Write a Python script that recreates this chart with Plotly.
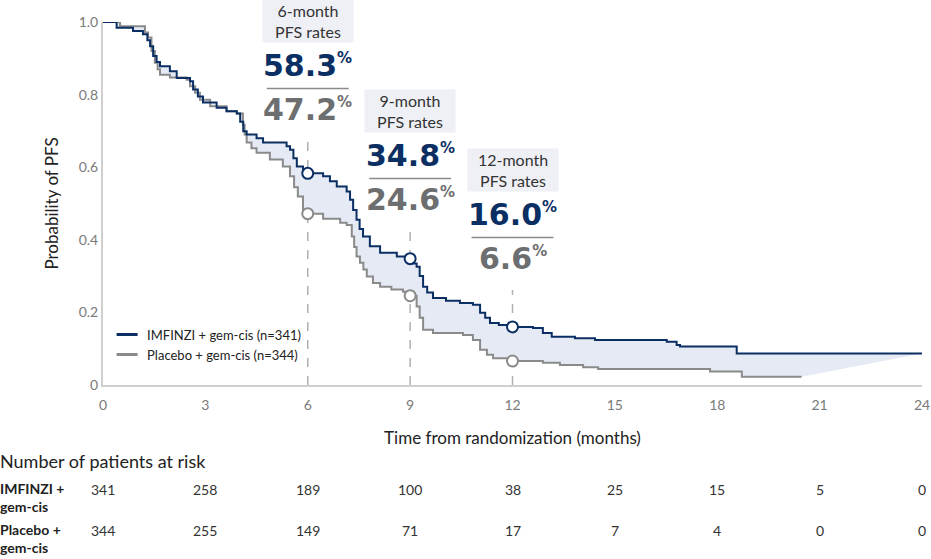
import plotly.graph_objects as go

# KM curves (month, survival after the drop)
imfinzi_months = [0, 0.40, 0.88, 1.17, 1.30, 1.38, 1.47, 1.57, 1.67, 1.96, 2.16, 2.55, 2.64, 2.78, 2.93,
                  3.33, 3.62, 3.92, 4.02, 4.11, 4.21, 4.50, 4.69, 5.38, 5.48, 5.58, 5.68, 5.86, 5.95,
                  6.45, 6.65, 6.85, 7.14, 7.24, 7.33, 7.43, 7.52, 7.62, 7.82, 8.12, 8.61, 8.95, 9.10,
                  9.19, 9.28, 9.38, 9.50, 9.67, 10.05, 10.46, 10.84, 11.05, 11.20, 11.34, 11.60, 11.93,
                  12.60, 12.89, 13.15, 13.83, 14.42, 16.52, 16.81, 16.91, 18.57, 24.0]
imfinzi_pfs = [1.0, 0.984, 0.975, 0.966, 0.950, 0.933, 0.906, 0.890, 0.878, 0.864, 0.846, 0.837, 0.814, 0.795, 0.778,
               0.764, 0.754, 0.748, 0.725, 0.699, 0.690, 0.680, 0.668, 0.658, 0.648, 0.625, 0.602, 0.593, 0.583,
               0.575, 0.561, 0.547, 0.533, 0.510, 0.482, 0.455, 0.430, 0.409, 0.382, 0.364, 0.354, 0.348, 0.335,
               0.326, 0.300, 0.271, 0.255, 0.240, 0.232, 0.226, 0.221, 0.199, 0.185, 0.171, 0.165, 0.160,
               0.157, 0.143, 0.133, 0.129, 0.124, 0.119, 0.110, 0.106, 0.087, 0.087]

placebo_months = [0, 0.50, 1.23, 1.32, 1.42, 1.52, 1.60, 1.67, 1.96, 2.45, 2.55, 2.70, 2.84, 3.14, 3.62, 3.92,
                  4.10, 4.15, 4.21, 4.35, 4.50, 4.89, 5.27, 5.48, 5.60, 5.71, 5.86, 5.95, 6.45, 6.95, 7.14,
                  7.29, 7.36, 7.43, 7.53, 7.63, 7.73, 7.91, 8.12, 8.45, 8.79, 8.95, 9.19, 9.28, 9.38, 9.67,
                  10.55, 10.84, 11.05, 11.25, 11.43, 11.95, 12.89, 13.39, 14.07, 14.51, 17.79, 18.72, 20.47]
placebo_pfs = [1.0, 0.988, 0.971, 0.957, 0.920, 0.888, 0.870, 0.855, 0.847, 0.841, 0.823, 0.805, 0.786, 0.768, 0.754, 0.748,
               0.717, 0.690, 0.668, 0.652, 0.640, 0.621, 0.602, 0.575, 0.545, 0.519, 0.483, 0.472, 0.458, 0.447, 0.441,
               0.409, 0.380, 0.354, 0.337, 0.318, 0.299, 0.281, 0.271, 0.263, 0.257, 0.246, 0.216, 0.185, 0.152, 0.143,
               0.138, 0.124, 0.097, 0.083, 0.074, 0.066, 0.061, 0.055, 0.049, 0.044, 0.037, 0.023, 0.023]

# landmark PFS rates (%)
landmark_months = [6, 9, 12]
imfinzi_rates = [58.3, 34.8, 16.0]
placebo_rates = [47.2, 24.6, 6.6]

# patients at risk
risk_months = [0, 3, 6, 9, 12, 15, 18, 21, 24]
imfinzi_at_risk = [341, 258, 189, 100, 38, 25, 15, 5, 0]
placebo_at_risk = [344, 255, 149, 71, 17, 7, 4, 0, 0]

NAVY = "#0b2f63"
GREY = "#8a8a8a"
NUM_GREY = "#6d6e70"
FONT = "Lato"

fig = go.Figure()

# shaded gap between the arms (grey first, blue fills down to it)
fig.add_trace(go.Scatter(x=placebo_months, y=placebo_pfs, mode="lines", line_shape="hv",
                         line=dict(width=0, color=GREY), showlegend=False, hoverinfo="skip"))
fig.add_trace(go.Scatter(x=imfinzi_months, y=imfinzi_pfs, mode="lines", line_shape="hv",
                         line=dict(width=0, color=NAVY), fill="tonexty", fillcolor="#e5eaf5",
                         showlegend=False, hoverinfo="skip"))

# the curves themselves
fig.add_trace(go.Scatter(x=placebo_months, y=placebo_pfs, mode="lines", line_shape="hv",
                         line=dict(color=GREY, width=2), showlegend=False, cliponaxis=False))
fig.add_trace(go.Scatter(x=imfinzi_months, y=imfinzi_pfs, mode="lines", line_shape="hv",
                         line=dict(color=NAVY, width=2), showlegend=False, cliponaxis=False))

# legend keys: short thick dashes
fig.add_trace(go.Scatter(x=[None], y=[None], mode="markers", name="IMFINZI + gem-cis (n=341)",
                         marker=dict(symbol="line-ew", size=15, line=dict(color=NAVY, width=3))))
fig.add_trace(go.Scatter(x=[None], y=[None], mode="markers", name="Placebo + gem-cis (n=344)",
                         marker=dict(symbol="line-ew", size=15, line=dict(color=GREY, width=3))))

# open circles at landmarks
fig.add_trace(go.Scatter(
    x=landmark_months, y=[r / 100 for r in placebo_rates], mode="markers", showlegend=False,
    marker=dict(size=11, color="white", line=dict(color=GREY, width=2)),
))
fig.add_trace(go.Scatter(
    x=landmark_months, y=[r / 100 for r in imfinzi_rates], mode="markers", showlegend=False,
    marker=dict(size=11, color="white", line=dict(color=NAVY, width=2)),
))

# dashed drop lines + callouts
line_tops = [0.676, 0.428, 0.262]
header_y = [1.004, 0.756, 0.593]
for m, top, hy, a, b in zip(landmark_months, line_tops, header_y, imfinzi_rates, placebo_rates):
    fig.add_shape(type="line", xref="x", yref="y", x0=m, x1=m, y0=0, y1=top,
                  line=dict(color="#b0b0b0", width=1.5, dash="dash"), layer="below")
    fig.add_annotation(x=m, y=hy, xref="x", yref="paper", text=f"{m}-month<br>PFS rates",
                       showarrow=False, font=dict(family=FONT, size=16, color="#333"),
                       bgcolor="#eef0f6", width=90, height=42, borderpad=0, yanchor="middle")
    # offsets from header centre in paper units
    fig.add_annotation(x=m, y=hy - 0.124, xref="x", yref="paper",
                       text=f"<b>{a:.1f}<sup><span style='font-size:15px'>%</span></sup></b>",
                       showarrow=False, font=dict(family="DejaVu Sans", size=30, color=NAVY), yanchor="middle")
    fig.add_shape(type="line", xref="x", yref="paper", x0=m - 1.2, x1=m + 1.2, y0=hy - 0.187, y1=hy - 0.187,
                  line=dict(color="#8a8a8a", width=1.5))
    fig.add_annotation(x=m, y=hy - 0.245, xref="x", yref="paper",
                       text=f"<b>{b:.1f}<sup><span style='font-size:15px'>%</span></sup></b>",
                       showarrow=False, font=dict(family="DejaVu Sans", size=30, color=NUM_GREY), yanchor="middle")

# risk table
left_edge = -0.1258  # figure's left edge in paper units
fig.add_annotation(x=left_edge, y=-0.21, xref="paper", yref="paper", text="Number of patients at risk",
                   showarrow=False, xanchor="left", yanchor="middle", borderpad=0, borderwidth=0,
                   font=dict(family=FONT, size=18, color="#222"))
for label, counts, ypos in [("IMFINZI +<br>gem-cis", imfinzi_at_risk, -0.287),
                            ("Placebo +<br>gem-cis", placebo_at_risk, -0.40)]:
    fig.add_annotation(x=left_edge, y=ypos + 0.024, xref="paper", yref="paper", text=f"<b>{label}</b>",
                       showarrow=False, xanchor="left", yanchor="top", align="left",
                       borderpad=0, borderwidth=0,
                       font=dict(family=FONT, size=14, color="#222"))
    for m, n in zip(risk_months, counts):
        fig.add_annotation(x=m, y=ypos, xref="x", yref="paper", text=str(n), showarrow=False,
                           yanchor="middle", font=dict(family=FONT, size=14, color="#333"))

fig.update_layout(
    width=931, height=559,
    margin=dict(l=103, r=9, t=22, b=174),
    paper_bgcolor="white", plot_bgcolor="white",
    font=dict(family=FONT),
    showlegend=True,
    legend=dict(x=0.005, y=0.18, xanchor="left", yanchor="top", bgcolor="rgba(0,0,0,0)",
                traceorder="normal", font=dict(family=FONT, size=13, color="#222"),
                itemwidth=30, tracegroupgap=0),
    xaxis=dict(range=[0, 24], tickvals=risk_months, showgrid=False, zeroline=False, automargin=False,
               showline=True, linecolor="#cfcfcf", linewidth=2, ticks="",
               ticklabelstandoff=6,
               tickfont=dict(family=FONT, size=14, color="#7a7a7a"),
               title=dict(text="Time from randomization (months)", standoff=20,
                          font=dict(family=FONT, size=17, color="#222"))),
    yaxis=dict(range=[0, 1], tickvals=[0, 0.2, 0.4, 0.6, 0.8, 1.0], ticktext=["0", "0.2", "0.4", "0.6", "0.8", "1.0"],
               showgrid=False, zeroline=False, showline=True, linecolor="#cfcfcf", linewidth=2, ticks="",
               automargin=False,
               tickfont=dict(family=FONT, size=14, color="#7a7a7a"),
               title=dict(text="Probability of PFS", standoff=16,
                          font=dict(family=FONT, size=17, color="#222"))),
)

# the page's default body margin would push the figure 8px off
fig.write_html("out.html", config={"displayModeBar": False},
               post_script="document.body.style.margin='0';")
